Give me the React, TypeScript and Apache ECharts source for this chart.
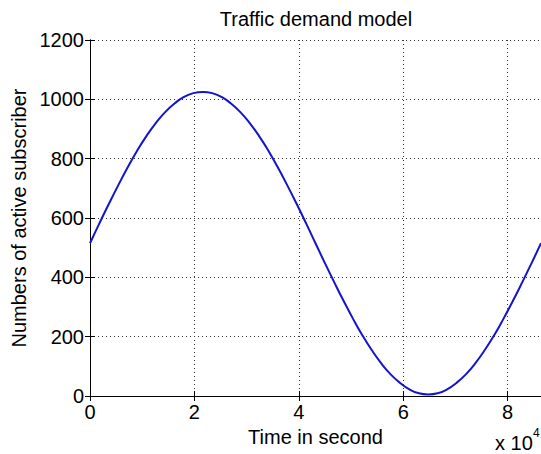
import React, { useEffect, useRef } from "react";
import * as echarts from "echarts";

const titleText = "Traffic demand model";
const xAxisName = "Time in second";
const yAxisName = "Numbers of active subscriber";
const xScaleText = "x 10";
const xExponent = "4";

// time in seconds (half-hour samples over one day)
const timeSec = [
  0, 1800, 3600, 5400, 7200, 9000, 10800, 12600, 14400, 16200, 18000, 19800,
  21600, 23400, 25200, 27000, 28800, 30600, 32400, 34200, 36000, 37800, 39600,
  41400, 43200, 45000, 46800, 48600, 50400, 52200, 54000, 55800, 57600, 59400,
  61200, 63000, 64800, 66600, 68400, 70200, 72000, 73800, 75600, 77400, 79200,
  81000, 82800, 84600, 86400,
];
// number of active subscribers
const subscribers = [
  515, 582, 647, 710, 770, 826, 876, 920, 957, 986, 1008, 1021, 1025, 1021,
  1008, 986, 957, 920, 876, 826, 770, 710, 647, 582, 515, 448, 383, 320, 260,
  204, 154, 110, 73, 44, 22, 9, 5, 9, 22, 44, 73, 110, 154, 204, 260, 320, 383,
  448, 515,
];

const xTicks = [0, 20000, 40000, 60000, 80000];
const yTicks = [0, 200, 400, 600, 800, 1000, 1200];

const FONT = "'Liberation Sans', Arial, Helvetica, sans-serif";

export default function App() {
  const ref = useRef<HTMLDivElement>(null);

  useEffect(() => {
    if (!ref.current) return;
    const chart = echarts.init(ref.current, undefined, { renderer: "svg" });
    const gridLine = {
      show: true,
      lineStyle: { color: "#333", type: [1, 3] as any, width: 1 },
    };
    const axisLine = { show: true, lineStyle: { color: "#000", width: 1 } };
    const tick = { show: true, inside: true, length: 5, lineStyle: { color: "#000" } };
    chart.setOption({
      animation: false,
      backgroundColor: "#fff",
      textStyle: { fontFamily: FONT, color: "#000" },
      grid: { left: 90, top: 40, width: 452, height: 356 },
      xAxis: [
        {
          type: "value",
          min: 0,
          max: timeSec[timeSec.length - 1],
          interval: xTicks[1] - xTicks[0],
          position: "bottom",
          name: xAxisName,
          nameLocation: "middle",
          nameGap: 30,
          nameTextStyle: { fontSize: 20, color: "#000", fontFamily: FONT },
          axisLine,
          axisTick: tick,
          splitLine: gridLine,
          axisLabel: {
            fontSize: 20,
            color: "#000",
            fontFamily: FONT,
            margin: 6,
            showMaxLabel: false,
            formatter: (v: number) => (xTicks.includes(v) ? String(v / 10000) : ""),
          },
        },
        {
          type: "value",
          min: 0,
          max: timeSec[timeSec.length - 1],
          interval: xTicks[1] - xTicks[0],
          position: "top",
          axisLine,
          axisTick: tick,
          splitLine: { show: false },
          axisLabel: { show: false },
        },
      ],
      yAxis: [
        {
          type: "value",
          min: yTicks[0],
          max: yTicks[yTicks.length - 1],
          interval: yTicks[1] - yTicks[0],
          position: "left",
          name: yAxisName,
          nameLocation: "middle",
          nameGap: 60,
          nameTextStyle: { fontSize: 20, color: "#000", fontFamily: FONT },
          axisLine,
          axisTick: tick,
          splitLine: gridLine,
          axisLabel: {
            fontSize: 20,
            color: "#000",
            fontFamily: FONT,
            margin: 6,
            formatter: (v: number) => String(v),
          },
        },
        {
          type: "value",
          min: yTicks[0],
          max: yTicks[yTicks.length - 1],
          interval: yTicks[1] - yTicks[0],
          position: "right",
          axisLine,
          axisTick: tick,
          splitLine: { show: false },
          axisLabel: { show: false },
        },
      ],
      series: [
        {
          type: "line",
          xAxisIndex: 0,
          yAxisIndex: 0,
          data: timeSec.map((t, i) => [t, subscribers[i]]),
          smooth: true,
          showSymbol: false,
          lineStyle: { color: "#1414cc", width: 2 },
        },
      ],
      graphic: [
        {
          type: "text",
          x: 316,
          y: 19,
          style: {
            text: titleText,
            fontSize: 20,
            fontFamily: FONT,
            fill: "#000",
            textAlign: "center",
            textVerticalAlign: "middle",
          },
        },
        {
          type: "text",
          x: 495,
          y: 443,
          style: {
            text: xScaleText,
            fontSize: 20,
            fontFamily: FONT,
            fill: "#000",
            textVerticalAlign: "middle",
          },
        },
        {
          type: "text",
          x: 533,
          y: 433,
          style: {
            text: xExponent,
            fontSize: 12,
            fontFamily: FONT,
            fill: "#000",
            textVerticalAlign: "middle",
          },
        },
      ],
    });
    return () => chart.dispose();
  }, []);

  return (
    <div
      ref={ref}
      style={{ position: "fixed", left: 0, top: 0, width: 541, height: 454 }}
    />
  );
}
